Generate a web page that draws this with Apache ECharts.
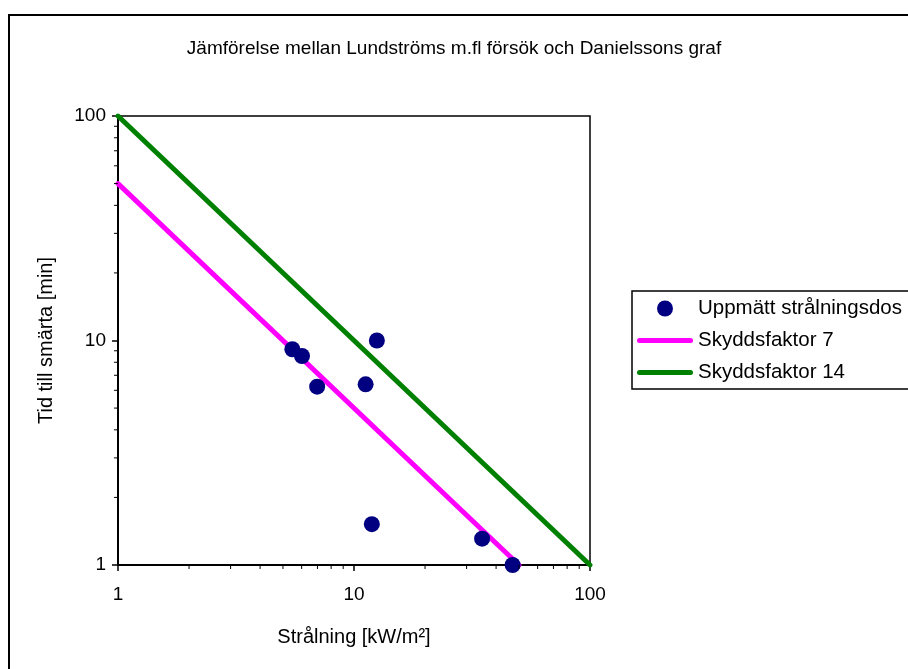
<!DOCTYPE html>
<html>
<head>
<meta charset="utf-8">
<script src="https://cdn.jsdelivr.net/npm/echarts@6/dist/echarts.min.js"></script>
<style>
  html, body { margin: 0; padding: 0; background: #fff; }
  #chart { width: 908px; height: 669px; }
</style>
</head>
<body>
<div id="chart"></div>
<script>
// Measured exposures: radiation [kW/m²] and time until pain [min]
const radiation = [5.48, 6.02, 6.98, 12.5, 11.2, 11.9, 34.9, 47.0];
const painTime  = [9.14, 8.53, 6.23, 10.0, 6.38, 1.52, 1.31, 1.0];

// Protection-factor lines (t = k / q), endpoints on the log-log axes
const factor7X  = [1, 50];
const factor7Y  = [50, 1];
const factor14X = [1, 100];
const factor14Y = [100, 1];

// Minor tick positions within each decade
const minorTicks = [2, 3, 4, 5, 6, 7, 8, 9, 20, 30, 40, 50, 60, 70, 80, 90];

const FONT = '"Liberation Sans", Arial, sans-serif';
const FS = 19;
const FS_NAME = 20;

const chart = echarts.init(document.getElementById('chart'), null, { renderer: 'canvas' });

const zip = (xs, ys) => xs.map((x, i) => [x, ys[i]]);

function minorTickSeries(onX) {
  return {
    type: 'custom',
    silent: true,
    clip: false,
    legendHoverLink: false,
    data: minorTicks.map(v => onX ? [v, 1] : [1, v]),
    renderItem: function (params, api) {
      const p = api.coord([api.value(0), api.value(1)]);
      const len = 4;
      return {
        type: 'line',
        shape: onX
          ? { x1: p[0], y1: p[1], x2: p[0], y2: p[1] + len }
          : { x1: p[0], y1: p[1], x2: p[0] - len, y2: p[1] },
        style: { stroke: '#000', lineWidth: 1 }
      };
    },
    z: 5
  };
}

const lineIcon = 'path://M2.5,0 L53.5,0 A2.5,2.5 0 0 1 53.5,5 L2.5,5 A2.5,2.5 0 0 1 2.5,0 Z';

const option = {
  backgroundColor: '#fff',
  animation: false,
  textStyle: { fontFamily: FONT },
  title: {
    text: 'Jämförelse mellan Lundströms m.fl försök och Danielssons graf',
    left: 'center',
    top: 34,
    textStyle: { fontFamily: FONT, fontSize: FS, fontWeight: 'normal', color: '#000' }
  },
  graphic: [
    {
      type: 'rect',
      shape: { x: 9, y: 15, width: 1000, height: 1000 },
      style: { fill: null, stroke: '#000', lineWidth: 2 },
      z: -1
    },
    {
      type: 'rect',
      shape: { x: 632, y: 291, width: 320, height: 98 },
      style: { fill: null, stroke: '#000', lineWidth: 1.5 },
      z: 1
    }
  ],
  legend: {
    orient: 'vertical',
    left: 637,
    top: 298,
    padding: 0,
    itemWidth: 56,
    itemHeight: 16,
    itemGap: 11,
    textStyle: { fontFamily: FONT, fontSize: 20.5, color: '#000', padding: [0, 0, 0, 0] },
    data: [
      { name: 'Uppmätt strålningsdos', icon: 'circle' },
      { name: 'Skyddsfaktor 7', icon: lineIcon },
      { name: 'Skyddsfaktor 14', icon: lineIcon }
    ]
  },
  grid: {
    left: 118,
    top: 116,
    right: 318,
    bottom: 104,
    show: true,
    borderColor: '#000',
    borderWidth: 1.5
  },
  xAxis: {
    type: 'log',
    logBase: 10,
    min: 1,
    max: 100,
    name: 'Strålning [kW/m²]',
    nameLocation: 'middle',
    nameGap: 62,
    nameTextStyle: { fontFamily: FONT, fontSize: FS_NAME, color: '#000' },
    axisLine: { show: true, lineStyle: { color: '#000', width: 2 } },
    axisTick: { show: true, length: 6, inside: false, lineStyle: { color: '#000', width: 1.5 } },
    axisLabel: { fontFamily: FONT, fontSize: FS, color: '#000', margin: 20 },
    splitLine: { show: false }
  },
  yAxis: {
    type: 'log',
    logBase: 10,
    min: 1,
    max: 100,
    name: 'Tid till smärta [min]',
    nameLocation: 'middle',
    nameGap: 62,
    nameRotate: 90,
    nameTextStyle: { fontFamily: FONT, fontSize: FS_NAME, color: '#000' },
    axisLine: { show: true, lineStyle: { color: '#000', width: 2 } },
    axisTick: { show: true, length: 6, inside: false, lineStyle: { color: '#000', width: 1.5 } },
    axisLabel: { fontFamily: FONT, fontSize: FS, color: '#000', margin: 12 },
    splitLine: { show: false }
  },
  series: [
    {
      name: 'Skyddsfaktor 7',
      type: 'line',
      data: zip(factor7X, factor7Y),
      showSymbol: false,
      symbol: 'none',
      color: '#FF00FF',
      lineStyle: { color: '#FF00FF', width: 5, cap: 'round' },
      z: 2
    },
    {
      name: 'Skyddsfaktor 14',
      type: 'line',
      data: zip(factor14X, factor14Y),
      showSymbol: false,
      symbol: 'none',
      color: '#008000',
      lineStyle: { color: '#008000', width: 5, cap: 'round' },
      z: 2
    },
    {
      name: 'Uppmätt strålningsdos',
      type: 'scatter',
      data: zip(radiation, painTime),
      symbol: 'circle',
      symbolSize: 16,
      color: '#000080',
      itemStyle: { color: '#000080', opacity: 1 },
      clip: false,
      z: 3
    },
    minorTickSeries(true),
    minorTickSeries(false)
  ]
};

chart.setOption(option);
</script>
</body>
</html>
